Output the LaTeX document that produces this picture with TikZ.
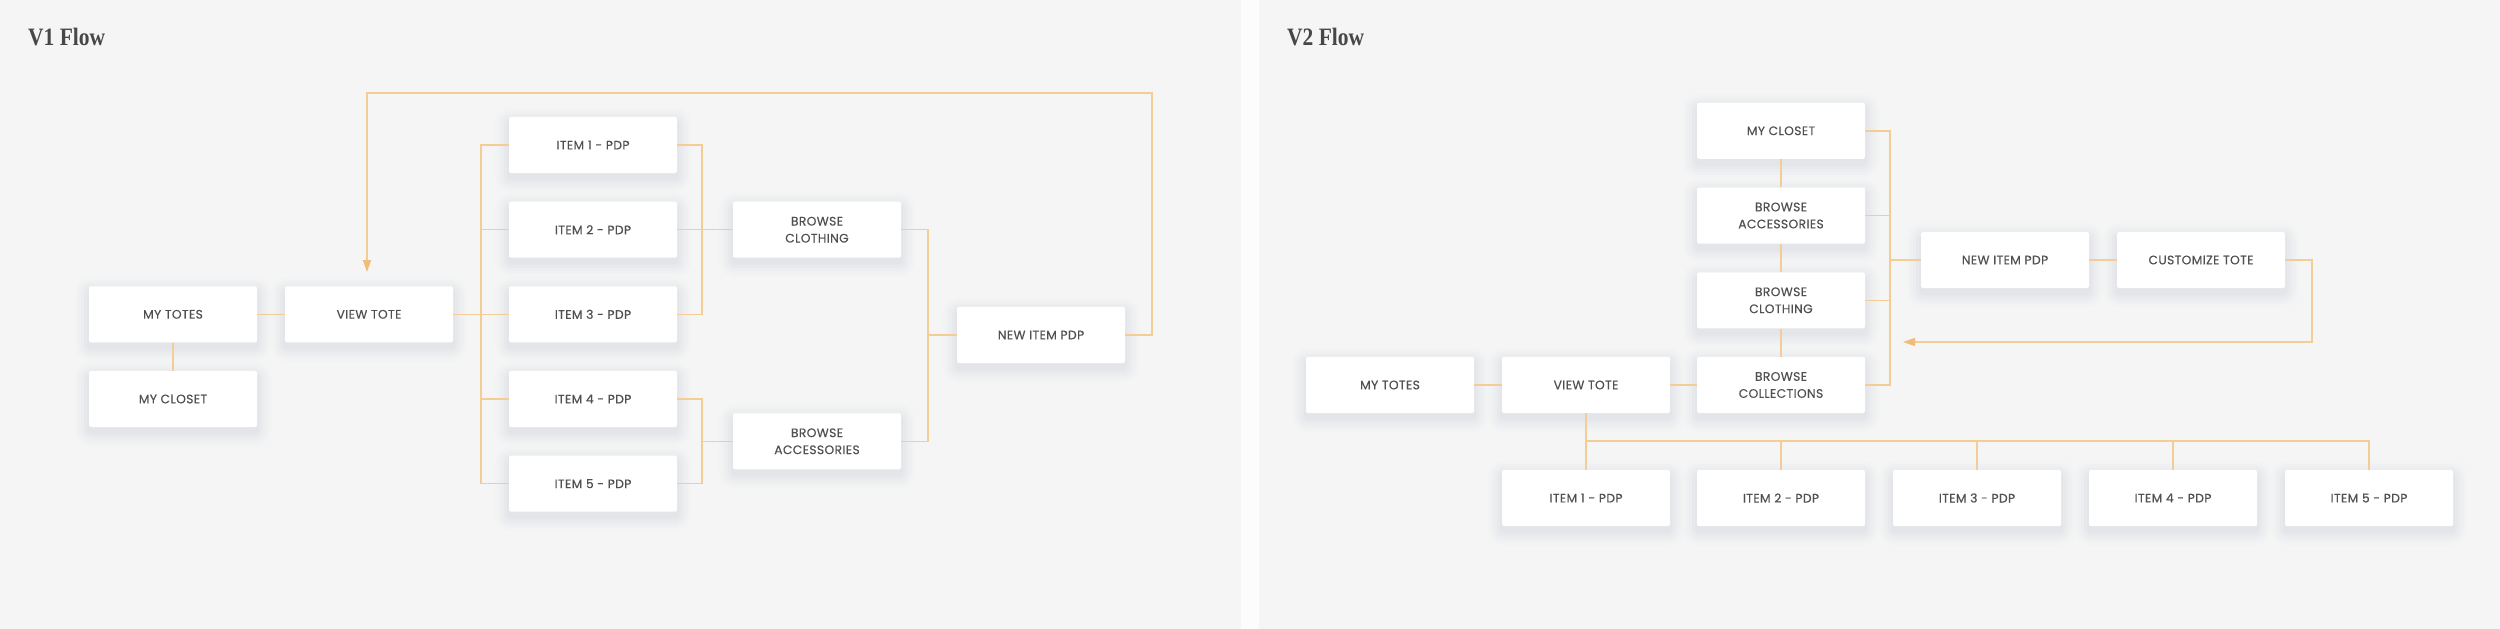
\documentclass[tikz,border=0pt]{standalone}
\usepackage{fontspec}
\newfontfamily\boxfont[FakeBold=0.35,LetterSpace=3]{Poppins}
\newfontfamily\titlefont[FakeStretch=0.86]{Liberation Serif}
\usetikzlibrary{arrows.meta,calc}
\definecolor{bgc}{HTML}{F5F5F5}
\definecolor{gapc}{HTML}{FCFCFC}
\definecolor{linec}{RGB}{244,204,150}
\definecolor{arrc}{RGB}{240,188,120}
\definecolor{txtc}{HTML}{505050}
\definecolor{titc}{HTML}{474747}
\definecolor{shc}{RGB}{140,145,180}
\newcommand\mycard[3]{%
  \foreach \d/\o in {14/0.02,11/0.025,8/0.03,5/0.035,2/0.04} {%
    \fill[shc, fill opacity=\o, rounded corners={\d pt+2pt}]
      ($(#2)+(-84-\d,-28-\d+5)$) rectangle ($(#2)+(84+\d,28+\d+5)$);}
  \node[card] (#1) at (#2) {#3};}
\begin{document}
\begin{tikzpicture}[x=1pt,y=-1pt,
  card/.style={fill=white, rounded corners=2pt, minimum width=168pt, minimum height=56pt,
    inner sep=0pt, align=center, text=txtc, font=\boxfont\fontsize{12.3}{17}\selectfont},
  conn/.style={draw=linec, line width=1.5pt},
  arr/.style={conn, -{Triangle[length=12pt,width=8pt,color=arrc]}},
  ttl/.style={anchor=base west, inner sep=0pt, text=titc, font=\titlefont\bfseries\fontsize{25}{25}\selectfont}]
\useasboundingbox (0,0) rectangle (2500,629);
\fill[bgc] (0,0) rectangle (1241,629);
\fill[gapc] (1241,0) rectangle (1259,629);
\fill[bgc] (1259,0) rectangle (2500,629);

\node[ttl] (t1) at (28,45.5) {V1 Flow};
\node[ttl] (t2) at (1287,45.5) {V2 Flow};

% ---------- V1 ----------
\mycard{mt}{173,314.3}{MY TOTES}
\mycard{mc}{173,399}{MY CLOSET}
\mycard{vt}{369,314.3}{VIEW TOTE}
\mycard{i1}{593,145}{ITEM 1 - PDP}
\mycard{i2}{593,229.7}{ITEM 2 - PDP}
\mycard{i3}{593,314.3}{ITEM 3 - PDP}
\mycard{i4}{593,399}{ITEM 4 - PDP}
\mycard{i5}{593,483.7}{ITEM 5 - PDP}
\mycard{bc}{817,229.7}{BROWSE\\CLOTHING}
\mycard{ba}{817,441.3}{BROWSE\\ACCESSORIES}
\mycard{np}{1041,335}{NEW ITEM PDP}

\coordinate (busL) at (481,314.3);
\coordinate (busC) at (702,229.7);
\coordinate (busA) at (702,441.3);
\coordinate (busN) at (928,335);
\coordinate (loopT) at (1152,93);
\coordinate (arr1) at (367,272);

\draw[conn] (mt) -- (vt);
\draw[conn] (mt) -- (mc);
\draw[conn] (vt.east) -- (busL);
\foreach \k in {1,...,5} {\draw[conn] (i\k.west) -| (busL);}
\draw[conn] (i1.east) -| (busC);
\draw[conn] (i3.east) -| (busC);
\draw[conn] (i2.east) -- (bc.west);
\draw[conn] (i4.east) -| (busA);
\draw[conn] (i5.east) -| (busA);
\draw[conn] (busA) -- (ba.west);
\draw[conn] (bc.east) -| (busN);
\draw[conn] (ba.east) -| (busN);
\draw[conn] (busN) -- (np.west);
\draw[arr] (np.east) -| (loopT) -| (arr1);

% ---------- V2 ----------
\mycard{mt2}{1390,385}{MY TOTES}
\mycard{vt2}{1586,385}{VIEW TOTE}
\mycard{bcol}{1781,385}{BROWSE\\COLLECTIONS}
\mycard{bclo}{1781,300.3}{BROWSE\\CLOTHING}
\mycard{bacc}{1781,215.5}{BROWSE\\ACCESSORIES}
\mycard{mc2}{1781,130.8}{MY CLOSET}
\mycard{np2}{2005,260}{NEW ITEM PDP}
\mycard{ct}{2201,260}{CUSTOMIZE TOTE}
\mycard{j1}{1586,498}{ITEM 1 - PDP}
\mycard{j2}{1781,498}{ITEM 2 - PDP}
\mycard{j3}{1977,498}{ITEM 3 - PDP}
\mycard{j4}{2173,498}{ITEM 4 - PDP}
\mycard{j5}{2369,498}{ITEM 5 - PDP}

\coordinate (busR) at (1890,260);
\coordinate (busB) at (1586,441);
\coordinate (loopR) at (2312,342);
\coordinate (arr2) at (1903,342);

\draw[conn] (mt2) -- (vt2);
\draw[conn] (vt2) -- (bcol);
\draw[conn] (mc2) -- (bacc);
\draw[conn] (bacc) -- (bclo);
\draw[conn] (bclo) -- (bcol);
\foreach \n in {mc2,bacc,bclo,bcol} {\draw[conn] (\n.east) -| (busR);}
\draw[conn] (busR) -- (np2.west);
\draw[conn] (np2) -- (ct);
\draw[arr] (ct.east) -| (loopR) -- (arr2);
\draw[conn] (vt2.south) -- (busB);
\foreach \k in {1,...,5} {\draw[conn] (busB) -| (j\k.north);}
\end{tikzpicture}
\end{document}
